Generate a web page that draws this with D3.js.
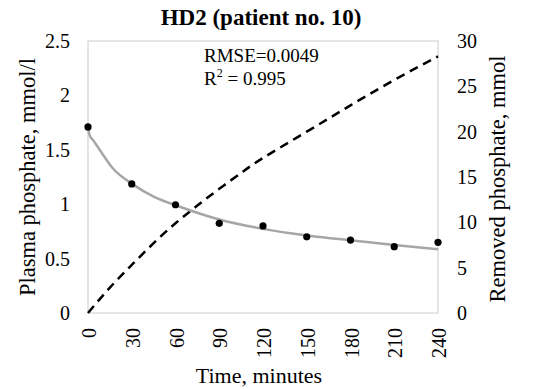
<!DOCTYPE html>
<html>
<head>
<meta charset="utf-8">
<script src="https://cdn.jsdelivr.net/npm/d3@7"></script>
<style>
  body { margin: 0; background: #fff; }
  svg text { font-family: "Liberation Serif", "Times New Roman", serif; fill: #000; }
</style>
</head>
<body>
<div id="chart"></div>
<script>
// measured plasma phosphate (mmol/l)
const times = [0, 30, 60, 90, 120, 150, 180, 210, 240];
const plasma = [1.71, 1.186, 0.995, 0.824, 0.80, 0.70, 0.67, 0.61, 0.65];

// fitted model curve
const fitTimes = [0, 1, 4, 8, 17, 31, 45, 63, 90, 118, 153, 183, 210, 240];
const fitValues = [1.71, 1.64, 1.58, 1.50, 1.33, 1.18, 1.07, 0.977, 0.86, 0.778, 0.708, 0.665, 0.625, 0.585];

// cumulative removed phosphate (mmol)
const removedTimes = [0, 15, 30, 45, 60, 75, 90, 105, 120, 150, 180, 210, 240];
const removed = [0, 2.8, 5.3, 7.7, 9.9, 11.85, 13.7, 15.45, 17.1, 20.0, 22.9, 25.7, 28.3];

const xTicks = [0, 30, 60, 90, 120, 150, 180, 210, 240];
const leftTicks = [0, 0.5, 1, 1.5, 2, 2.5];
const rightTicks = [0, 5, 10, 15, 20, 25, 30];

const W = 533, H = 389;
const m = { left: 88, right: 95, top: 41, bottom: 76 };
const iw = W - m.left - m.right, ih = H - m.top - m.bottom;

const svg = d3.select("#chart").append("svg")
  .attr("width", W)
  .attr("height", H);

const g = svg.append("g")
  .attr("transform", `translate(${m.left},${m.top})`);

const x = d3.scaleLinear().domain([0, 240]).range([0, iw]);
const yL = d3.scaleLinear().domain([0, 2.5]).range([ih, 0]);
const yR = d3.scaleLinear().domain([0, 30]).range([ih, 0]);

// plot frame
g.append("rect")
  .attr("width", iw)
  .attr("height", ih)
  .style("fill", "none")
  .style("stroke", "#d4d4d4")
  .style("stroke-width", 1.2);

// x axis with rotated labels
const xAxis = g.append("g")
  .attr("transform", `translate(0,${ih})`)
  .call(d3.axisBottom(x).tickValues(xTicks).tickSize(0).tickFormat(d3.format("d")));
xAxis.select(".domain").remove();
xAxis.selectAll("text")
  .style("font-size", "20px")
  .attr("text-anchor", "end")
  .attr("transform", "rotate(-90)")
  .attr("x", -15)
  .attr("y", 0)
  .attr("dy", "0.38em");

const leftAxis = g.append("g")
  .call(d3.axisLeft(yL).tickValues(leftTicks).tickSize(0).tickPadding(18).tickFormat(d => String(d)));
leftAxis.select(".domain").remove();
leftAxis.selectAll("text").style("font-size", "20px");

const rightAxis = g.append("g")
  .attr("transform", `translate(${iw},0)`)
  .call(d3.axisRight(yR).tickValues(rightTicks).tickSize(0).tickPadding(19));
rightAxis.select(".domain").remove();
rightAxis.selectAll("text").style("font-size", "20px");

// removed phosphate (dashed)
const removedLine = d3.line()
  .x((d, i) => x(removedTimes[i]))
  .y(d => yR(d))
  .curve(d3.curveNatural);

g.append("path")
  .datum(removed)
  .attr("d", removedLine)
  .style("fill", "none")
  .style("stroke", "#000")
  .style("stroke-width", 2.5)
  .style("stroke-dasharray", "9,6");

// fitted curve
const fitLine = d3.line()
  .x((d, i) => x(fitTimes[i]))
  .y(d => yL(d))
  .curve(d3.curveMonotoneX);

g.append("path")
  .datum(fitValues)
  .attr("d", fitLine)
  .style("fill", "none")
  .style("stroke", "#a6a6a6")
  .style("stroke-width", 2.5);

// measured points
g.selectAll("circle.pt")
  .data(plasma)
  .enter().append("circle")
  .attr("class", "pt")
  .attr("cx", (d, i) => x(times[i]))
  .attr("cy", d => yL(d))
  .attr("r", 3.6)
  .style("fill", "#000");

// fit statistics
svg.append("text")
  .attr("x", 204)
  .attr("y", 62)
  .style("font-size", "19px")
  .text("RMSE=0.0049");

const r2 = svg.append("text")
  .attr("x", 204)
  .attr("y", 85)
  .style("font-size", "19px");
r2.append("tspan").text("R");
r2.append("tspan").attr("dy", -8).style("font-size", "12px").text("2");
r2.append("tspan").attr("dy", 8).text(" = 0.995");

// title
svg.append("text")
  .attr("x", 261)
  .attr("y", 25)
  .style("text-anchor", "middle")
  .style("font-size", "23px")
  .style("font-weight", "bold")
  .text("HD2 (patient no. 10)");

// axis titles
svg.append("text")
  .attr("x", 259)
  .attr("y", 383)
  .style("text-anchor", "middle")
  .style("font-size", "22px")
  .text("Time, minutes");

svg.append("text")
  .attr("transform", "translate(35,177) rotate(-90)")
  .style("text-anchor", "middle")
  .style("font-size", "22.5px")
  .text("Plasma phosphate, mmol/l");

svg.append("text")
  .attr("transform", "translate(505,179) rotate(-90)")
  .style("text-anchor", "middle")
  .style("font-size", "22.5px")
  .text("Removed phosphate, mmol");
</script>
</body>
</html>
